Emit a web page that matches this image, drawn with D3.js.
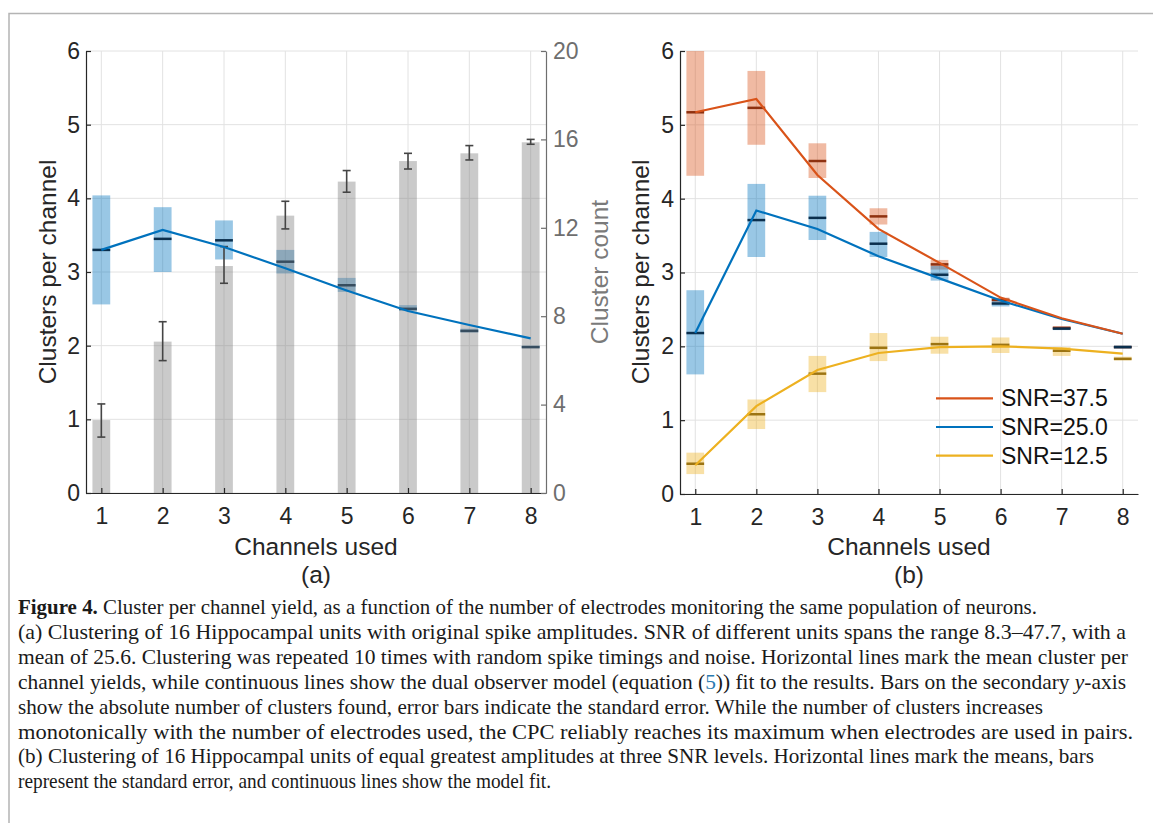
<!DOCTYPE html>
<html>
<head>
<meta charset="utf-8">
<script src="https://cdn.jsdelivr.net/npm/d3@7"></script>
<style>
  html, body { margin: 0; padding: 0; background: #fff; }
  svg { display: block; }
</style>
</head>
<body>
<svg id="fig" width="1153" height="823"></svg>
<script>
// ---- data ----
const channels = [1, 2, 3, 4, 5, 6, 7, 8];

// panel (a): clusters per channel (left axis)
const cpcMean = [3.30, 3.45, 3.43, 3.14, 2.82, 2.50, 2.20, 1.98];
const cpcLow  = [2.56, 3.00, 3.17, 2.98, 2.73, 2.47, 2.18, 1.97];
const cpcHigh = [4.04, 3.88, 3.70, 3.30, 2.92, 2.55, 2.23, 2.00];
const cpcFit  = [3.30, 3.57, 3.34, 3.05, 2.75, 2.47, 2.28, 2.10];

// panel (a): cluster count (right axis)
const countMean = [3.30, 6.85, 10.27, 12.55, 14.09, 15.02, 15.37, 15.87];
const countLow  = [2.53, 5.99, 9.49, 11.95, 13.61, 14.66, 15.07, 15.78];
const countHigh = [4.03, 7.75, 11.15, 13.20, 14.59, 15.37, 15.72, 16.00];

// panel (b): three SNR levels
const snrLabels = ['SNR=37.5', 'SNR=25.0', 'SNR=12.5'];
const snrMean = [
  [5.17, 5.23, 4.51, 3.76, 3.11, 2.63, 2.25, 1.99],
  [2.18, 3.71, 3.74, 3.39, 2.97, 2.58, 2.24, 1.99],
  [0.41, 1.08, 1.63, 1.98, 2.03, 2.02, 1.94, 1.83]
];
const snrLow = [
  [4.31, 4.73, 4.28, 3.65, 3.04, 2.60, 2.23, 1.98],
  [1.62, 3.21, 3.44, 3.21, 2.89, 2.54, 2.22, 1.97],
  [0.27, 0.88, 1.38, 1.80, 1.90, 1.91, 1.87, 1.81]
];
const snrHigh = [
  [6.05, 5.73, 4.75, 3.87, 3.17, 2.66, 2.27, 2.00],
  [2.76, 4.20, 4.04, 3.55, 3.09, 2.62, 2.26, 2.01],
  [0.56, 1.28, 1.87, 2.18, 2.13, 2.12, 1.99, 1.86]
];
const snrFit = [
  [5.17, 5.35, 4.32, 3.59, 3.13, 2.66, 2.38, 2.17],
  [2.18, 3.84, 3.59, 3.22, 2.92, 2.62, 2.37, 2.17],
  [0.39, 1.19, 1.68, 1.91, 1.99, 2.00, 1.97, 1.90]
];

const leftTicks = [0, 1, 2, 3, 4, 5, 6];
const rightTicks = [0, 4, 8, 12, 16, 20];

const captionLines = [
  [['b', 'Figure 4.'], ['', ' Cluster per channel yield, as a function of the number of electrodes monitoring the same population of neurons.']],
  [['', '(a) Clustering of 16 Hippocampal units with original spike amplitudes. SNR of different units spans the range 8.3\u201347.7, with a']],
  [['', 'mean of 25.6. Clustering was repeated 10 times with random spike timings and noise. Horizontal lines mark the mean cluster per']],
  [['', 'channel yields, while continuous lines show the dual observer model (equation ('], ['link', '5'], ['', ')) fit to the results. Bars on the secondary '], ['i', 'y'], ['', '-axis']],
  [['', 'show the absolute number of clusters found, error bars indicate the standard error. While the number of clusters increases']],
  [['', 'monotonically with the number of electrodes used, the CPC reliably reaches its maximum when electrodes are used in pairs.']],
  [['', '(b) Clustering of 16 Hippocampal units of equal greatest amplitudes at three SNR levels. Horizontal lines mark the means, bars']],
  [['', 'represent the standard error, and continuous lines show the model fit.']]
];
const captionEnds = [1037, 1126, 1128, 1126, 1043, 1133, 1094, 551];

// ---- styles ----
const sans = '"Liberation Sans", Arial, Helvetica, sans-serif';
const serif = '"Liberation Serif", "Times New Roman", serif';
const gridColor = '#e2e2e2';
const axisColor = '#262626';
const rightColor = '#6e6e6e';
const fitColors = ['#D95319', '#0072BD', '#EDB120'];
const meanColors = ['#8e3110', '#0b2f4d', '#9c7412'];
const tickFont = '23px';

const svg = d3.select('#fig');
svg.append('rect').attr('width', 1153).attr('height', 823).attr('fill', '#fff');

// page frame
svg.append('path').attr('d', 'M9,823V13.5H1153').attr('fill', 'none')
  .attr('stroke', '#b4b4b4').attr('stroke-width', 1.5);

function grid(g, x, y, x0, x1, y0, y1) {
  g.append('g').selectAll('line').data(leftTicks).join('line')
    .attr('x1', x0).attr('x2', x1).attr('y1', d => y(d)).attr('y2', d => y(d))
    .attr('stroke', gridColor).attr('stroke-width', 1);
  g.append('g').selectAll('line').data(channels).join('line')
    .attr('x1', d => x(d)).attr('x2', d => x(d)).attr('y1', y0).attr('y2', y1)
    .attr('stroke', gridColor).attr('stroke-width', 1);
}

function styleAxis(sel, color) {
  sel.attr('font-size', null).attr('font-family', null);
  sel.select('.domain').attr('stroke', color).attr('stroke-width', 1.2);
  sel.selectAll('.tick line').attr('stroke', color).attr('stroke-width', 1.2);
  sel.selectAll('.tick text').attr('fill', color)
    .style('font-size', tickFont).style('font-family', sans);
}

function leftAxis(g, x0, y) {
  const ax = g.append('g').attr('transform', `translate(${x0},0)`)
    .call(d3.axisLeft(y).tickValues(leftTicks).tickFormat(d3.format('d')).tickSizeInner(-5).tickSizeOuter(0).tickPadding(6));
  styleAxis(ax, axisColor);
}

function bottomAxis(g, x, yPos) {
  const ax = g.append('g').attr('transform', `translate(0,${yPos})`)
    .call(d3.axisBottom(x).tickValues(channels).tickFormat(d3.format('d')).tickSizeInner(-5).tickSizeOuter(0).tickPadding(15));
  styleAxis(ax, axisColor);
}

function label(g, text, x, y, rotate, color) {
  const t = g.append('text').style('font-family', sans).style('font-size', '24.5px')
    .attr('fill', color || axisColor).attr('text-anchor', 'middle').text(text);
  if (rotate) t.attr('transform', `translate(${x},${y}) rotate(-90)`).attr('dy', '0.35em');
  else t.attr('x', x).attr('y', y);
}

// ================= panel (a) =================
const xa = d3.scaleLinear().domain([0.75, 8.25]).range([86, 546]);
const ya = d3.scaleLinear().domain([0, 6]).range([493, 51]);
const yr = d3.scaleLinear().domain([0, 20]).range([493, 51]);
const halfW = 0.145;
const ga = svg.append('g');

grid(ga, xa, ya, 86, 546, 51, 493);

// blue SE boxes
ga.append('g').selectAll('rect').data(channels).join('rect')
  .attr('x', d => xa(d - halfW)).attr('width', d => xa(d + halfW) - xa(d - halfW))
  .attr('y', (d, i) => ya(cpcHigh[i])).attr('height', (d, i) => ya(cpcLow[i]) - ya(cpcHigh[i]))
  .attr('fill', '#0072BD').attr('fill-opacity', 0.4);
// mean lines
ga.append('g').selectAll('line').data(channels).join('line')
  .attr('x1', d => xa(d - halfW)).attr('x2', d => xa(d + halfW))
  .attr('y1', (d, i) => ya(cpcMean[i])).attr('y2', (d, i) => ya(cpcMean[i]))
  .attr('stroke', meanColors[1]).attr('stroke-width', 2.5);

// gray count bars (right axis), semi-transparent on top
ga.append('g').selectAll('rect').data(channels).join('rect')
  .attr('x', d => xa(d - halfW)).attr('width', d => xa(d + halfW) - xa(d - halfW))
  .attr('y', (d, i) => yr(countMean[i])).attr('height', (d, i) => yr(0) - yr(countMean[i]))
  .attr('fill', '#7a7a7a').attr('fill-opacity', 0.4);

// error bars
const eb = ga.append('g').attr('stroke', '#454545').attr('stroke-width', 1.6);
channels.forEach((c, i) => {
  const cx = xa(c);
  eb.append('line').attr('x1', cx).attr('x2', cx).attr('y1', yr(countLow[i])).attr('y2', yr(countHigh[i]));
  eb.append('line').attr('x1', cx - 4).attr('x2', cx + 4).attr('y1', yr(countLow[i])).attr('y2', yr(countLow[i]));
  eb.append('line').attr('x1', cx - 4).attr('x2', cx + 4).attr('y1', yr(countHigh[i])).attr('y2', yr(countHigh[i]));
});

// fit line
ga.append('path').datum(channels)
  .attr('d', d3.line().x(d => xa(d)).y((d, i) => ya(cpcFit[i])))
  .attr('fill', 'none').attr('stroke', fitColors[1]).attr('stroke-width', 2.2);

leftAxis(ga, 86, ya);
bottomAxis(ga, xa, 493);
const rax = ga.append('g').attr('transform', 'translate(546,0)')
  .call(d3.axisRight(yr).tickValues(rightTicks).tickSizeInner(-5).tickSizeOuter(0).tickPadding(7));
styleAxis(rax, rightColor);

label(ga, 'Clusters per channel', 47, 272, true);
label(ga, 'Cluster count', 599, 272, true, '#7a7a7a');
label(ga, 'Channels used', 316, 555);
label(ga, '(a)', 316, 583);

// ================= panel (b) =================
const xb = d3.scaleLinear().domain([0.75, 8.25]).range([680, 1138]);
const yb = d3.scaleLinear().domain([0, 6]).range([494, 51]);
const gb = svg.append('g');

gb.append('clipPath').attr('id', 'clipB').append('rect')
  .attr('x', 680).attr('y', 51).attr('width', 458).attr('height', 443);

grid(gb, xb, yb, 680, 1138, 51, 494);

const pb = gb.append('g').attr('clip-path', 'url(#clipB)');
snrLabels.forEach((lab, s) => {
  pb.append('g').selectAll('rect').data(channels).join('rect')
    .attr('x', d => xb(d - halfW)).attr('width', d => xb(d + halfW) - xb(d - halfW))
    .attr('y', (d, i) => yb(snrHigh[s][i])).attr('height', (d, i) => yb(snrLow[s][i]) - yb(snrHigh[s][i]))
    .attr('fill', fitColors[s]).attr('fill-opacity', 0.4);
});
snrLabels.forEach((lab, s) => {
  pb.append('g').selectAll('line').data(channels).join('line')
    .attr('x1', d => xb(d - halfW)).attr('x2', d => xb(d + halfW))
    .attr('y1', (d, i) => yb(snrMean[s][i])).attr('y2', (d, i) => yb(snrMean[s][i]))
    .attr('stroke', meanColors[s]).attr('stroke-width', 2.5);
});
// draw fits back to front so orange ends up on top
[2, 1, 0].forEach(s => {
  pb.append('path').datum(channels)
    .attr('d', d3.line().x(d => xb(d)).y((d, i) => yb(snrFit[s][i])))
    .attr('fill', 'none').attr('stroke', fitColors[s]).attr('stroke-width', 2.2);
});

leftAxis(gb, 680, yb);
bottomAxis(gb, xb, 494);
label(gb, 'Clusters per channel', 640, 272, true);
label(gb, 'Channels used', 909, 555);
label(gb, '(b)', 909, 583);

// legend
const legendY = d3.scaleBand().domain(snrLabels).range([384, 470]);
const lg = gb.append('g');
snrLabels.forEach((lab, s) => {
  const yy = legendY(lab) + legendY.bandwidth() / 2;
  lg.append('line').attr('x1', 936).attr('x2', 993).attr('y1', yy).attr('y2', yy)
    .attr('stroke', fitColors[s]).attr('stroke-width', 2.2);
  lg.append('text').attr('x', 1001).attr('y', yy).attr('dy', '0.35em')
    .style('font-family', sans).style('font-size', '23px').attr('fill', '#111').text(lab);
});

// ================= caption =================
const cap = svg.append('g').style('font-family', serif).style('font-size', '21px').attr('fill', '#1a1a1a');
captionLines.forEach((parts, i) => {
  const t = cap.append('text').attr('x', 18).attr('y', 614 + i * 24.9)
    .attr('textLength', captionEnds[i] - 18).attr('lengthAdjust', 'spacingAndGlyphs');
  parts.forEach(([kind, str]) => {
    const ts = t.append('tspan').text(str);
    if (kind === 'b') ts.attr('font-weight', 'bold');
    if (kind === 'i') ts.attr('font-style', 'italic');
    if (kind === 'link') ts.attr('fill', '#2a7ab0');
  });
});
</script>
</body>
</html>
